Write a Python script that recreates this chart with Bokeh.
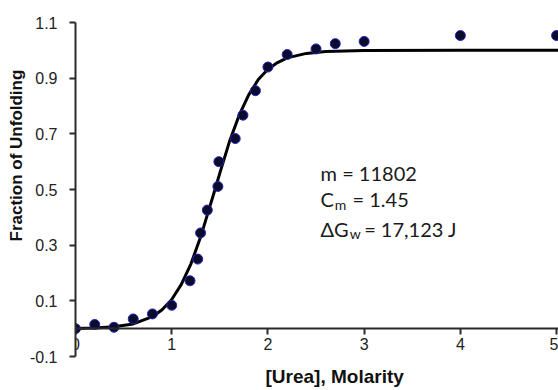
from bokeh.plotting import figure
from bokeh.models import Range1d, Label, FixedTicker, Title
from bokeh.embed import file_html
from bokeh.resources import INLINE

# measured data points
urea = [0.0, 0.2, 0.4, 0.6, 0.8, 1.0, 1.19, 1.27, 1.3, 1.37, 1.48, 1.49, 1.66, 1.74,
        1.87, 2.0, 2.2, 2.5, 2.7, 3.0, 4.0, 5.0]
fraction = [0.0, 0.015, 0.005, 0.035, 0.053, 0.084, 0.172, 0.25, 0.344, 0.426, 0.511,
            0.60, 0.683, 0.767, 0.855, 0.94, 0.985, 1.005, 1.024, 1.032, 1.053, 1.053]

# fitted curve
fit_x = [0.0, 0.2, 0.4, 0.6, 0.8, 0.9, 1.0, 1.1, 1.2, 1.3, 1.4, 1.45, 1.5, 1.6, 1.7,
         1.8, 1.9, 2.0, 2.1, 2.2, 2.4, 2.6, 3.0, 4.0, 5.02]
fit_y = [0.001, 0.002, 0.007, 0.017, 0.043, 0.068, 0.105, 0.159, 0.233, 0.329, 0.443,
         0.5, 0.559, 0.672, 0.766, 0.840, 0.895, 0.932, 0.956, 0.973, 0.989, 0.996,
         0.999, 1.0, 1.0]

x_ticks = [0, 1, 2, 3, 4, 5]
y_ticks = [-0.1, 0.1, 0.3, 0.5, 0.7, 0.9, 1.1]
y_tick_labels = {t: ("%.1f" % t) for t in y_ticks}

p = figure(frame_width=483, frame_height=334, output_backend="svg", toolbar_location=None,
           x_range=Range1d(0, 5.02), y_range=Range1d(-0.1, 1.1),
           min_border_left=75, min_border_top=22, min_border_right=0, min_border_bottom=34)
p.outline_line_color = None
p.grid.visible = False
p.background_fill_color = "white"

axis_color = "#2a2a2a"
for ax in (p.xaxis[0], p.yaxis[0]):
    ax.axis_line_color = axis_color
    ax.axis_line_width = 2
    ax.major_tick_line_color = axis_color
    ax.major_tick_line_width = 2
    ax.major_tick_out = 6
    ax.major_tick_in = 0
    ax.minor_tick_line_color = None
    ax.major_label_text_font = "Liberation Sans"
    ax.major_label_text_font_size = "16px"
    ax.major_label_text_color = "#222222"

p.xaxis.ticker = FixedTicker(ticks=x_ticks)
p.yaxis.ticker = FixedTicker(ticks=y_ticks)
p.yaxis.major_label_overrides = y_tick_labels
p.xaxis.fixed_location = 0
p.xaxis.major_label_standoff = 3
p.yaxis.major_label_standoff = 12

# axis titles as side titles (offset from the panel start, as in the reference)
p.add_layout(Title(text="Fraction of Unfolding", align="left", offset=115, standoff=2,
                   text_font="Liberation Sans", text_font_style="bold",
                   text_font_size="17px", text_color="#111111"), "left")
p.add_layout(Title(text="[Urea], Molarity", align="left", offset=190, standoff=14,
                   text_font="Liberation Sans", text_font_style="bold",
                   text_font_size="19px", text_color="#111111"), "below")

p.line(fit_x, fit_y, line_color="black", line_width=3)
p.scatter(urea, fraction, size=10, fill_color="#0b0b2e", line_color="#2626b8", line_width=1)

fnt = "Lato"
tc = "#1a1a1a"
def lab(x, y, t, size="20px"):
    p.add_layout(Label(x=x, y=y, text=t, text_font=fnt, text_font_size=size,
                       text_color=tc, text_baseline="alphabetic", text_align="left"))

lab(2.547, 0.5605, "m = 11802")
lab(2.547, 0.467, "C")
lab(2.695, 0.447, "m", "14px")
lab(2.879, 0.467, "= 1.45")
lab(2.547, 0.359, "\u0394G")
lab(2.85, 0.343, "w", "14px")
lab(3.0, 0.359, "= 17,123 J")

open("out.html", "w").write(file_html(p, INLINE))
